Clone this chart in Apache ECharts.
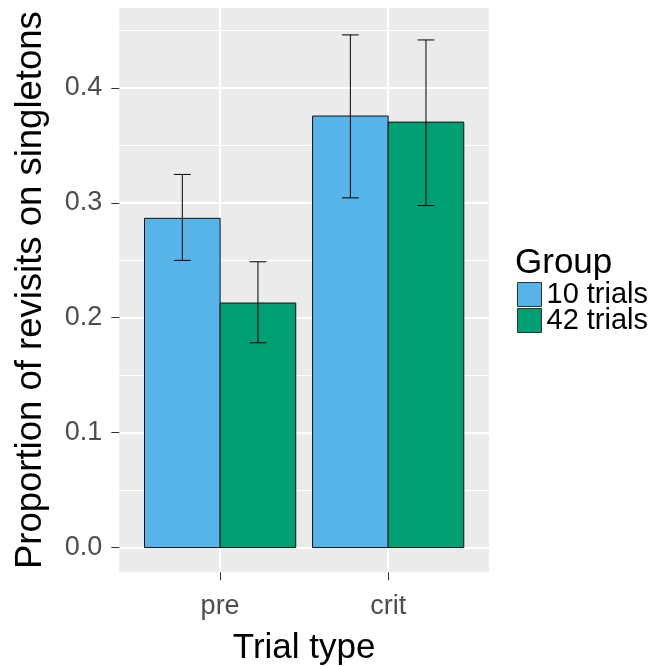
<!DOCTYPE html>
<html>
<head>
<meta charset="utf-8">
<title>Revisits on singletons</title>
<script src="https://cdn.jsdelivr.net/npm/echarts@6/dist/echarts.min.js"></script>
<style>
  html, body { margin: 0; padding: 0; background: #ffffff; }
  #chart { width: 650px; height: 666px; }
</style>
</head>
<body>
<div id="chart"></div>
<script>
// Trial types on the x axis
const categories = ['pre', 'crit'];
// Groups (legend entries)
const groups = ['10 trials', '42 trials'];
const groupColors = ['#56B4E9', '#009E73'];
// Mean proportion of revisits, one array per group, in category order
const means10 = [0.2865, 0.3755];
const means42 = [0.2128, 0.3702];
// Error bar bounds
const lower10 = [0.2499, 0.3043];
const upper10 = [0.3247, 0.4461];
const lower42 = [0.1782, 0.2976];
const upper42 = [0.2487, 0.4417];
// Axis ticks
const yTicks = [0, 0.1, 0.2, 0.3, 0.4];
const yMinorTicks = [0.05, 0.15, 0.25, 0.35, 0.45];

const FONT = '"Liberation Sans", Arial, sans-serif';
const dodge = 0.9;                 // total width of a dodged pair of bars
const barW = dodge / groups.length;
const capW = 0.1;

function buildData(means, lo, hi) {
  return categories.map((c, i) => [i + 1, means[i], lo[i], hi[i]]);
}

function makeRender(groupIndex) {
  return function (params, api) {
    const xc = api.value(0) - dodge / 2 + barW * (groupIndex + 0.5);
    const mean = api.value(1), lo = api.value(2), hi = api.value(3);
    const p0 = api.coord([xc - barW / 2, mean]);
    const p1 = api.coord([xc + barW / 2, 0]);
    const top = api.coord([xc, hi]);
    const bot = api.coord([xc, lo]);
    const cl = api.coord([xc - capW / 2, hi]);
    const cr = api.coord([xc + capW / 2, hi]);
    const bl = api.coord([xc - capW / 2, lo]);
    const br = api.coord([xc + capW / 2, lo]);
    const lineStyle = { stroke: '#000000', lineWidth: 1 };
    return {
      type: 'group',
      children: [
        {
          type: 'rect',
          shape: { x: p0[0], y: p0[1], width: p1[0] - p0[0], height: p1[1] - p0[1] },
          style: { fill: groupColors[groupIndex], stroke: '#111111', lineWidth: 1 }
        },
        { type: 'line', shape: { x1: top[0], y1: top[1], x2: bot[0], y2: bot[1] }, style: lineStyle },
        { type: 'line', shape: { x1: cl[0], y1: cl[1], x2: cr[0], y2: cr[1] }, style: lineStyle },
        { type: 'line', shape: { x1: bl[0], y1: bl[1], x2: br[0], y2: br[1] }, style: lineStyle }
      ]
    };
  };
}

const chart = echarts.init(document.getElementById('chart'), null, { renderer: 'canvas' });

chart.setOption({
  animation: false,
  backgroundColor: '#ffffff',
  textStyle: { fontFamily: FONT },
  grid: {
    left: 119.3, right: 161, top: 8, bottom: 93.7,
    outerBoundsMode: 'none',
    containLabel: false,
    show: true, backgroundColor: '#EBEBEB', borderWidth: 0
  },
  legend: {
    orient: 'vertical',
    left: 517, top: 280,
    padding: 0,
    itemWidth: 24, itemHeight: 24, itemGap: -3,
    icon: 'rect',
    data: groups,
    itemStyle: { borderColor: '#333333', borderWidth: 1 },
    textStyle: { fontFamily: FONT, fontSize: 29, color: '#000000' }
  },
  graphic: [{
    type: 'text',
    left: 515, top: 246,
    style: { text: 'Group', font: '35px ' + FONT, fill: '#000000' }
  }],
  xAxis: {
    type: 'value',
    min: 0.4, max: 2.6,
    name: 'Trial type',
    nameLocation: 'middle',
    nameGap: 59,
    nameTextStyle: { fontFamily: FONT, fontSize: 35, color: '#000000' },
    axisLine: { show: false, onZero: false },
    axisTick: { show: true, length: 8, lineStyle: { color: '#333333', width: 1 }, customValues: [1, 2] },
    axisLabel: {
      customValues: [1, 2],
      formatter: v => categories[Math.round(v) - 1],
      fontFamily: FONT, fontSize: 27, color: '#4D4D4D', margin: 21
    },
    splitLine: { show: true, lineStyle: { color: '#ffffff', width: 2 } }
  },
  yAxis: {
    type: 'value',
    min: -0.0215, max: 0.4695,
    name: 'Proportion of revisits on singletons',
    nameLocation: 'middle',
    nameRotate: 90,
    nameGap: 70,
    nameTextStyle: { fontFamily: FONT, fontSize: 36.5, color: '#000000' },
    axisLine: { show: false },
    axisTick: { show: true, length: 8, lineStyle: { color: '#333333', width: 1 }, customValues: yTicks },
    axisLabel: {
      customValues: yTicks,
      formatter: v => v.toFixed(1),
      fontFamily: FONT, fontSize: 27, color: '#4D4D4D', margin: 17
    },
    splitLine: { show: true, lineStyle: { color: '#ffffff', width: 2 } }
  },
  series: [
    {
      name: groups[0],
      type: 'custom',
      renderItem: makeRender(0),
      itemStyle: { color: groupColors[0] },
      encode: { x: 0, y: [1, 2, 3] },
      data: buildData(means10, lower10, upper10),
      z: 3,
      markLine: {
        silent: true,
        z: 1,
        symbol: ['none', 'none'],
        label: { show: false },
        lineStyle: { color: '#ffffff', width: 1, type: 'solid' },
        data: yMinorTicks.map(v => ({ yAxis: v }))
      }
    },
    {
      name: groups[1],
      type: 'custom',
      renderItem: makeRender(1),
      itemStyle: { color: groupColors[1] },
      encode: { x: 0, y: [1, 2, 3] },
      data: buildData(means42, lower42, upper42),
      z: 3
    }
  ]
});
</script>
</body>
</html>
